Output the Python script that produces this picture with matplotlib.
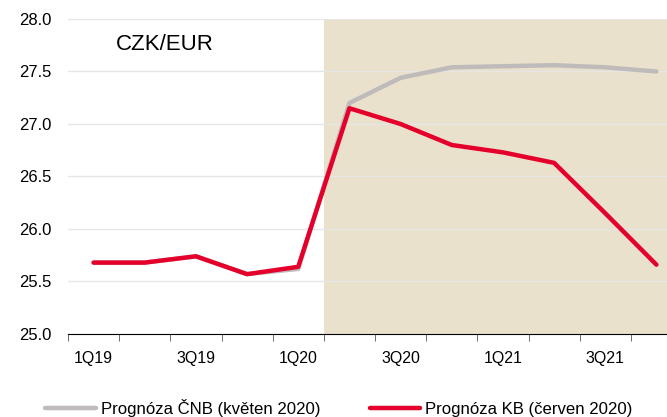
import numpy as np
import matplotlib.pyplot as plt
from matplotlib.ticker import FixedLocator

plt.rcParams['font.family'] = ['Liberation Sans', 'DejaVu Sans']

# Quarters 1Q19 .. 4Q21
quarters = ['1Q19', '2Q19', '3Q19', '4Q19', '1Q20', '2Q20',
            '3Q20', '4Q20', '1Q21', '2Q21', '3Q21', '4Q21']
cnb_may = [25.68, 25.68, 25.74, 25.57, 25.62, 27.20,
           27.44, 27.54, 27.55, 27.56, 27.54, 27.50]
kb_june = [25.68, 25.68, 25.74, 25.57, 25.64, 27.15,
           27.00, 26.80, 26.73, 26.63, 26.15, 25.66]
forecast_start = 5  # first forecast quarter (2Q20)

fig = plt.figure(figsize=(6.67, 4.17), dpi=100)
# axes deliberately run past the right edge, like the original
ax = fig.add_axes([68 / 667, 1 - 334 / 417, 614 / 667, 315 / 417])

x = np.arange(len(quarters)) + 0.5
ax.axvspan(forecast_start, len(quarters), color='#E9E1CB', zorder=0, lw=0)
ax.plot(x, cnb_may, color='#BFBBBB', lw=3.2, solid_capstyle='round',
        label='Prognóza ČNB (květen 2020)', zorder=2)
ax.plot(x, kb_june, color='#E4002B', lw=3.2, solid_capstyle='round',
        label='Prognóza KB (červen 2020)', zorder=3)

ax.set_xlim(0, len(quarters))
ax.set_ylim(25.0, 28.0)
ax.set_yticks(np.arange(25.0, 28.01, 0.5))
ax.set_yticklabels([f'{v:.1f}' for v in np.arange(25.0, 28.01, 0.5)])
ax.yaxis.grid(True, color='#E6E6E6', lw=1)
ax.set_axisbelow(True)

ax.set_xticks(x[::2])
ax.set_xticklabels(quarters[::2])
ax.xaxis.set_minor_locator(FixedLocator(np.arange(0, len(quarters) + 1)))
ax.tick_params(axis='x', which='major', length=0, pad=12, labelsize=11.5)
ax.tick_params(axis='x', which='minor', length=5, color='#555555')
ax.tick_params(axis='y', length=0, pad=12, labelsize=12)

for side in ['left', 'right', 'top']:
    ax.spines[side].set_visible(False)
ax.spines['bottom'].set_color('black')

fig.text(116 / 667, 1 - 45 / 417, 'CZK/EUR', fontsize=16,
         va='center', ha='left')

fig.legend(loc='lower left', bbox_to_anchor=(30 / 667, -0.037), ncol=2,
           frameon=False, fontsize=12.1, handlelength=3.0, handletextpad=0.3,
           columnspacing=2.95)

fig.savefig('out.png', dpi=100)
